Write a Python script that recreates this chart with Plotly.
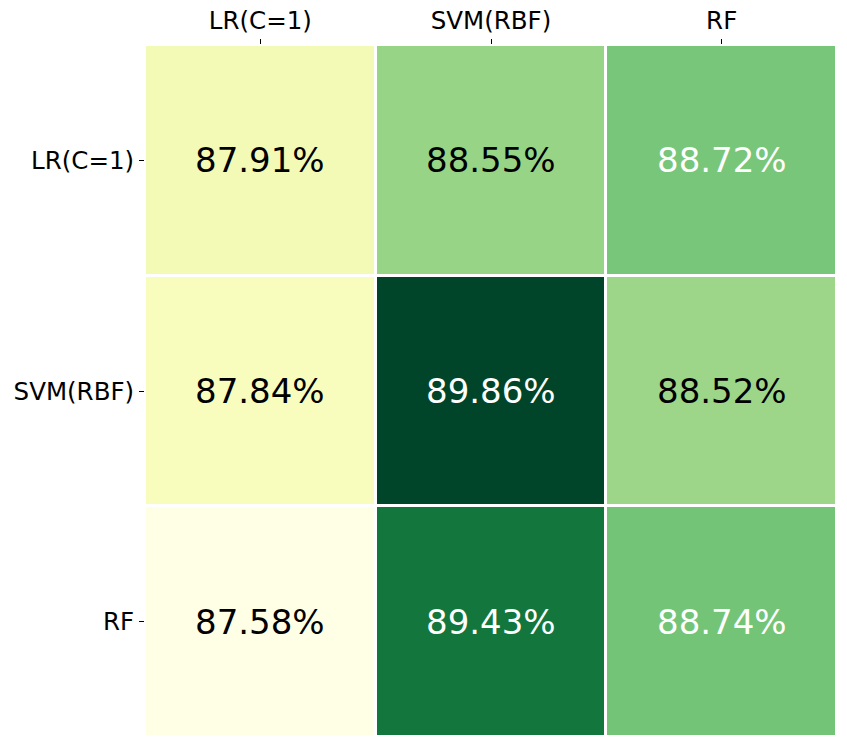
import plotly.graph_objects as go

# data
models = ['LR(C=1)', 'SVM(RBF)', 'RF']
acc = [
    [87.91, 88.55, 88.72],
    [87.84, 89.86, 88.52],
    [87.58, 89.43, 88.74],
]

fig = go.Figure(go.Heatmap(
    z=acc, x=models, y=models,
    colorscale='YlGn', showscale=False,
    xgap=3, ygap=3,
))

# cell labels, white on the darker cells
for i, row in enumerate(acc):
    for j, v in enumerate(row):
        fig.add_annotation(
            x=models[j], y=models[i], text='%.2f%%' % v, showarrow=False,
            font=dict(size=34, color='white' if v > 88.6 else 'black',
                      family='DejaVu Sans'))

fig.update_xaxes(side='top', ticks='outside', ticklen=5, tickcolor='black',
                 showgrid=False, zeroline=False, showline=False, automargin=False)
fig.update_yaxes(autorange='reversed', ticks='outside', ticklen=5,
                 tickcolor='black', showgrid=False, zeroline=False,
                 showline=False, automargin=False)

# page body adds an 8px offset, so size the figure a bit smaller
fig.update_layout(
    width=839, height=740,
    margin=dict(l=137, r=10, t=37, b=11),
    font=dict(family='DejaVu Sans', size=24.5, color='black'),
    plot_bgcolor='white', paper_bgcolor='white',
)

fig.write_html('out.html')
